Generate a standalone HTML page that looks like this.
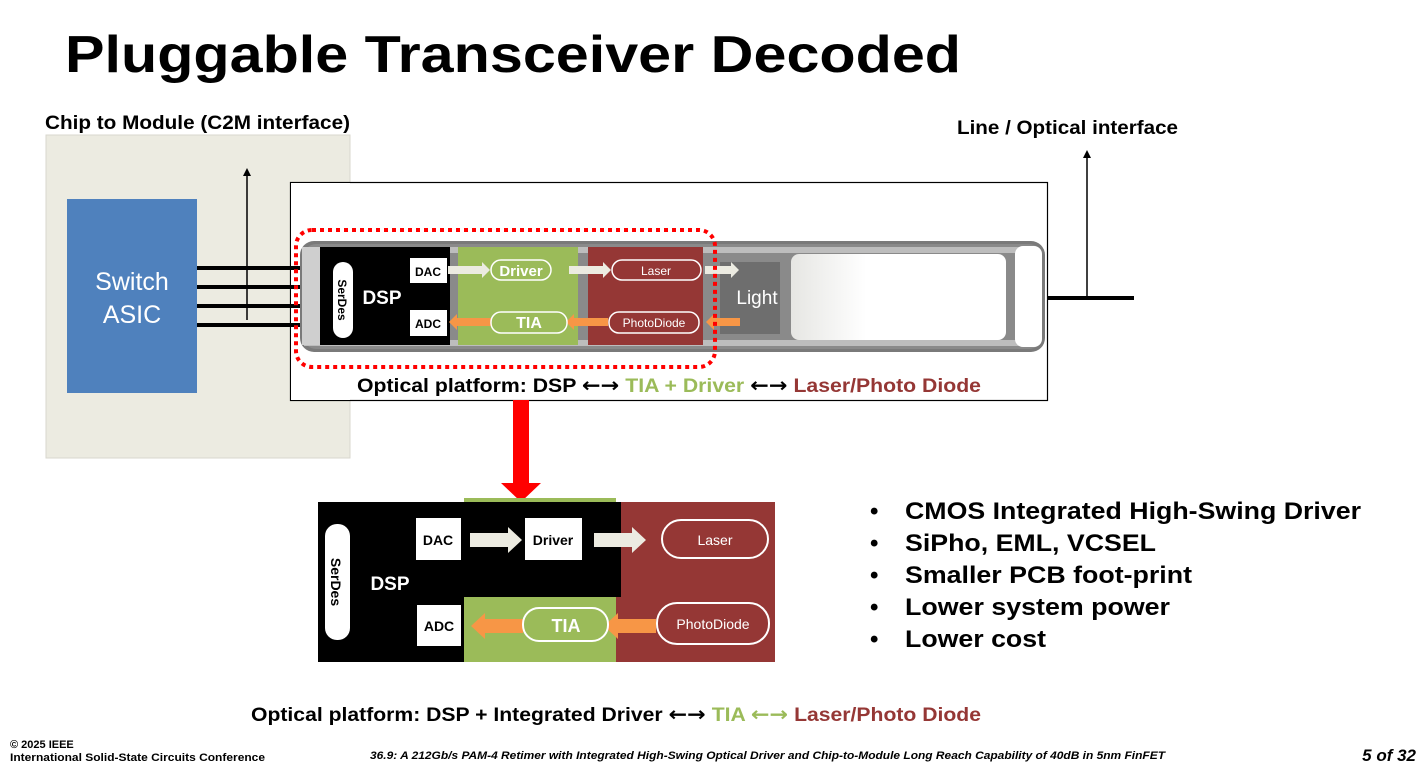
<!DOCTYPE html>
<html><head><meta charset="utf-8"><style>
html,body{margin:0;padding:0;background:#fff;}
svg{display:block;font-family:"Liberation Sans",Arial,sans-serif;}
</style></head><body>
<svg width="1421" height="768" viewBox="0 0 1421 768" xmlns="http://www.w3.org/2000/svg">
<defs>
<linearGradient id="fade" x1="0" x2="1" y1="0" y2="0">
<stop offset="0" stop-color="#e6e6e3"/><stop offset="0.35" stop-color="#fff"/><stop offset="1" stop-color="#fff"/>
</linearGradient>
<marker id="ah" markerWidth="8" markerHeight="8" refX="4" refY="4" orient="auto" markerUnits="userSpaceOnUse"><path d="M0,0 L8,4 L0,8 z" fill="#000"/></marker>
</defs>
<rect width="1421" height="768" fill="#fff"/>
<text x="65" y="72" font-size="52" font-weight="bold" textLength="896" lengthAdjust="spacingAndGlyphs">Pluggable Transceiver Decoded</text>

<text x="45" y="129" font-size="19" font-weight="bold" textLength="305" lengthAdjust="spacingAndGlyphs">Chip to Module (C2M interface)</text>
<text x="957" y="134" font-size="19" font-weight="bold" textLength="221" lengthAdjust="spacingAndGlyphs">Line / Optical interface</text>

<rect x="46" y="135" width="304" height="323" fill="#ecebe1" stroke="#d8d7ce" stroke-width="1"/>
<rect x="290.5" y="182.5" width="757" height="218" fill="#fff" stroke="#000" stroke-width="1.2"/>
<rect x="290" y="182" width="60" height="218" fill="#fff"/>
<line x1="290.5" y1="182" x2="290.5" y2="400.5" stroke="#000"/>
<line x1="290" y1="182.5" x2="1048" y2="182.5" stroke="#000"/>
<line x1="290" y1="400.5" x2="1048" y2="400.5" stroke="#000"/>
<rect x="67" y="199" width="130" height="194" fill="#4f81bd"/>
<text x="132" y="290" font-size="25" fill="#fff" text-anchor="middle">Switch</text>
<text x="132" y="323" font-size="25" fill="#fff" text-anchor="middle">ASIC</text>
<g stroke="#000" stroke-width="4">
<line x1="197" y1="268" x2="300" y2="268"/><line x1="197" y1="287" x2="300" y2="287"/>
<line x1="197" y1="306" x2="300" y2="306"/><line x1="197" y1="325" x2="300" y2="325"/>
</g>
<line x1="247" y1="320" x2="247" y2="172" stroke="#000" stroke-width="1.5" marker-end="url(#ah)"/>

<rect x="300" y="241" width="745" height="111" rx="14" fill="#7a7a7a"/>
<rect x="304" y="244" width="737" height="105" rx="12" fill="#8a8a8a"/>
<rect x="304" y="247" width="730" height="6" fill="#bdbdbd"/>
<rect x="304" y="340" width="730" height="6" fill="#bdbdbd"/>
<rect x="302" y="247" width="20" height="98" fill="#cfcfcf"/>
<rect x="791" y="254" width="215" height="86" rx="8" fill="url(#fade)"/>
<rect x="1015" y="246" width="27" height="101" rx="8" fill="#fff"/>
<rect x="720" y="262" width="60" height="72" fill="#6e6e6e"/>
<rect x="320" y="247" width="130" height="98" fill="#000"/>
<rect x="458" y="247" width="120" height="98" fill="#9bbb59"/>
<rect x="588" y="247" width="115" height="98" fill="#953735"/>
<rect x="333" y="262" width="20" height="76" rx="10" fill="#fff"/>
<text transform="translate(338,300) rotate(90)" font-size="12" font-weight="bold" text-anchor="middle">SerDes</text>
<text x="382" y="304" font-size="19" font-weight="bold" fill="#fff" text-anchor="middle">DSP</text>
<rect x="410" y="258" width="37" height="25" fill="#fff"/>
<text x="428" y="276" font-size="12" font-weight="bold" text-anchor="middle">DAC</text>
<rect x="410" y="310" width="37" height="26" fill="#fff"/>
<text x="428" y="328" font-size="12" font-weight="bold" text-anchor="middle">ADC</text>
<path d="M448,266 h34 v-4 l8,8 l-8,8 v-4 h-34z" fill="#ecebe1"/>
<path d="M569,266 h34 v-4 l8,8 l-8,8 v-4 h-34z" fill="#ecebe1"/>
<path d="M705,266 h26 v-4 l8,8 l-8,8 v-4 h-26z" fill="#ecebe1"/>
<rect x="491" y="260" width="60" height="20" rx="10" fill="#9bbb59" stroke="#fff" stroke-width="1.5"/>
<text x="521" y="276" font-size="15" font-weight="bold" fill="#fff" text-anchor="middle">Driver</text>
<rect x="612" y="260" width="89" height="20" rx="10" fill="#953735" stroke="#fff" stroke-width="1.5"/>
<text x="656" y="275" font-size="12" fill="#fff" text-anchor="middle">Laser</text>
<path d="M491,318 h-34 v-4 l-8,8 l8,8 v-4 h34z" fill="#f79646"/>
<path d="M608,318 h-34 v-4 l-8,8 l8,8 v-4 h34z" fill="#f79646"/>
<path d="M740,318 h-26 v-4 l-8,8 l8,8 v-4 h26z" fill="#f79646"/>
<rect x="491" y="312" width="76" height="21" rx="10" fill="#9bbb59" stroke="#fff" stroke-width="1.5"/>
<text x="529" y="328" font-size="16" font-weight="bold" fill="#fff" text-anchor="middle">TIA</text>
<rect x="609" y="312" width="90" height="21" rx="10" fill="#953735" stroke="#fff" stroke-width="1.5"/>
<text x="654" y="327" font-size="12" fill="#fff" text-anchor="middle">PhotoDiode</text>
<text x="757" y="304" font-size="19" fill="#fff" text-anchor="middle">Light</text>
<rect x="296" y="230" width="419" height="137" rx="16" fill="none" stroke="#f00" stroke-width="4" stroke-dasharray="4,4"/>
<line x1="1048" y1="298" x2="1134" y2="298" stroke="#000" stroke-width="4"/>
<line x1="1087" y1="296" x2="1087" y2="154" stroke="#000" stroke-width="1.5" marker-end="url(#ah)"/>

<text x="357" y="392" font-size="19" font-weight="bold" textLength="624" lengthAdjust="spacingAndGlyphs">Optical platform:  DSP <tspan font-family="DejaVu Sans" font-size="20">←→</tspan> <tspan fill="#9bbb59">TIA + Driver</tspan> <tspan font-family="DejaVu Sans" font-size="20">←→</tspan> <tspan fill="#953735">Laser/Photo Diode</tspan></text>

<rect x="513" y="400" width="16" height="84" fill="#f00"/>
<path d="M501,483 L541,483 L521,502z" fill="#f00"/>

<rect x="464" y="498" width="152" height="164" fill="#9bbb59"/>
<rect x="616" y="502" width="159" height="160" fill="#953735"/>
<rect x="318" y="502" width="146" height="160" fill="#000"/>
<rect x="318" y="502" width="303" height="95" fill="#000"/>
<rect x="325" y="524" width="25" height="116" rx="12" fill="#fff"/>
<text transform="translate(331,582) rotate(90)" font-size="14" font-weight="bold" text-anchor="middle">SerDes</text>
<text x="390" y="590" font-size="19" font-weight="bold" fill="#fff" text-anchor="middle">DSP</text>
<rect x="416" y="518" width="45" height="42" fill="#fff"/>
<text x="438" y="545" font-size="14" font-weight="bold" text-anchor="middle">DAC</text>
<rect x="525" y="518" width="57" height="42" fill="#fff"/>
<text x="553" y="545" font-size="14" font-weight="bold" text-anchor="middle">Driver</text>
<rect x="417" y="605" width="44" height="41" fill="#fff"/>
<text x="439" y="631" font-size="14" font-weight="bold" text-anchor="middle">ADC</text>
<path d="M470,533 h38 v-6 l14,13 l-14,13 v-6 h-38z" fill="#ecebe1"/>
<path d="M594,533 h38 v-6 l14,13 l-14,13 v-6 h-38z" fill="#ecebe1"/>
<rect x="662" y="520" width="106" height="38" rx="19" fill="#953735" stroke="#fff" stroke-width="2"/>
<text x="715" y="545" font-size="14" fill="#fff" text-anchor="middle">Laser</text>
<path d="M523,619 h-38 v-6 l-14,13 l14,13 v-6 h38z" fill="#f79646"/>
<path d="M656,619 h-38 v-6 l-14,13 l14,13 v-6 h38z" fill="#f79646"/>
<rect x="523" y="608" width="85" height="33" rx="16" fill="#9bbb59" stroke="#fff" stroke-width="2"/>
<text x="566" y="632" font-size="18" font-weight="bold" fill="#fff" text-anchor="middle">TIA</text>
<rect x="657" y="603" width="112" height="41" rx="20" fill="#953735" stroke="#fff" stroke-width="2"/>
<text x="713" y="629" font-size="14" fill="#fff" text-anchor="middle">PhotoDiode</text>

<g font-size="24" font-weight="bold">
<text x="870" y="519">•</text><text x="905" y="519" textLength="456" lengthAdjust="spacingAndGlyphs">CMOS Integrated High-Swing Driver</text>
<text x="870" y="551">•</text><text x="905" y="551" textLength="251" lengthAdjust="spacingAndGlyphs">SiPho, EML, VCSEL</text>
<text x="870" y="583">•</text><text x="905" y="583" textLength="287" lengthAdjust="spacingAndGlyphs">Smaller PCB foot-print</text>
<text x="870" y="615">•</text><text x="905" y="615" textLength="265" lengthAdjust="spacingAndGlyphs">Lower system power</text>
<text x="870" y="647">•</text><text x="905" y="647" textLength="141" lengthAdjust="spacingAndGlyphs">Lower cost</text>
</g>

<text x="251" y="721" font-size="19" font-weight="bold" textLength="730" lengthAdjust="spacingAndGlyphs">Optical platform:  DSP + Integrated Driver <tspan font-family="DejaVu Sans" font-size="20">←→</tspan> <tspan fill="#9bbb59">TIA <tspan font-family="DejaVu Sans" font-size="20">←→</tspan> </tspan><tspan fill="#953735">Laser/Photo Diode</tspan></text>

<text x="10" y="748" font-size="11" font-weight="bold">© 2025 IEEE</text>
<text x="10" y="761" font-size="11" font-weight="bold" textLength="255" lengthAdjust="spacingAndGlyphs">International Solid-State Circuits Conference</text>
<text x="370" y="759" font-size="11" font-weight="bold" font-style="italic" textLength="795" lengthAdjust="spacingAndGlyphs">36.9: A 212Gb/s PAM-4 Retimer with Integrated High-Swing Optical Driver and Chip-to-Module Long Reach Capability of 40dB in 5nm FinFET</text>
<text x="1416" y="761" font-size="17" font-weight="bold" font-style="italic" text-anchor="end">5 of 32</text>
</svg>
</body></html>
